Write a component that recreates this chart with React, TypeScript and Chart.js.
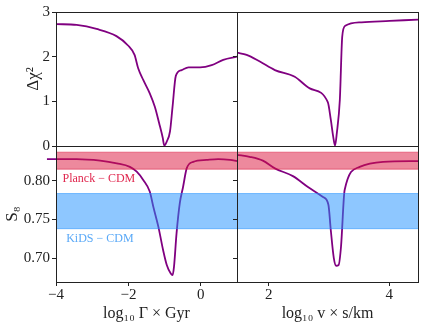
import React, { useEffect, useRef } from "react";
import { Chart, registerables } from "chart.js";
Chart.register(...registerables);

const W = 425;
const H = 327;

// ---- data ----
const gammaDchi2X = [-4, -3.43, -2.88, -2.33, -2.01, -1.83, -1.73, -1.59, -1.41, -1.27, -1.15, -1.05, -1.01, -0.94, -0.85, -0.78, -0.69, -0.53, -0.34, -0.02, 0.3, 0.62, 1.0];
const gammaDchi2Y = [2.73, 2.71, 2.62, 2.46, 2.25, 2.04, 1.74, 1.48, 1.18, 0.88, 0.51, 0.18, 0.01, 0.1, 0.33, 0.88, 1.57, 1.7, 1.76, 1.76, 1.81, 1.93, 2.0];

const velDchi2X = [1.47, 1.63, 1.85, 2.1, 2.43, 2.68, 2.98, 3.03, 3.07, 3.1, 3.13, 3.18, 3.22, 3.27, 3.54, 4.01, 4.48];
const velDchi2Y = [2.09, 2.04, 1.89, 1.7, 1.55, 1.29, 0.98, 0.59, 0.21, 0.01, 0.29, 1.03, 2.45, 2.69, 2.77, 2.8, 2.83];

const gammaS8X = [-4.25, -4, -3.43, -2.78, -2.32, -1.96, -1.77, -1.59, -1.41, -1.31, -1.17, -1.04, -0.94, -0.83, -0.78, -0.74, -0.67, -0.58, -0.49, -0.39, -0.21, 0.16, 0.48, 0.81, 1.0];
const gammaS8Y = [0.828, 0.828, 0.828, 0.826, 0.8225, 0.818, 0.8117, 0.801, 0.786, 0.766, 0.74, 0.71, 0.691, 0.68, 0.678, 0.689, 0.732, 0.771, 0.792, 0.816, 0.8245, 0.827, 0.828, 0.827, 0.8255];

const velS8X = [1.47, 1.68, 1.9, 2.1, 2.4, 2.65, 2.9, 2.99, 3.03, 3.08, 3.12, 3.16, 3.2, 3.26, 3.51, 3.9, 4.48];
const velS8Y = [0.8336, 0.831, 0.826, 0.816, 0.806, 0.792, 0.779, 0.769, 0.736, 0.7, 0.69, 0.691, 0.715, 0.788, 0.818, 0.8245, 0.8255];

const planckBand = [0.815, 0.837];
const kidsBand = [0.738, 0.7835];
const planckLabel = "Planck − CDM";
const kidsLabel = "KiDS − CDM";
const planckLabelPos = [-3.82, 0.802];
const kidsLabelPos = [-3.72, 0.7245];

const gammaRange = [-4, 1];
const velRange = [1.47, 4.48];
const dchi2Range = [0, 3];
const s8Range = [0.669, 0.845];

const dchi2Ticks = [0, 1, 2, 3];
const s8Ticks = [0.7, 0.75, 0.8];
const gammaTicks = [-4, -2, 0];
const velTicks = [2, 4];

const dchi2Title = "Δχ²";
const s8Title = "S₈";
const gammaTitle = "log₁₀ Γ × Gyr";
const velTitle = "log₁₀ v × s/km";

// ---- styles ----
const FONT = "'Liberation Serif', 'DejaVu Serif', serif";
const TXT = "#222222";
const CURVE = "#800080";
const PLANCK = "rgba(220,20,60,0.5)";
const KIDS = "rgba(30,144,255,0.5)";

const fmtInt = (v: number) => (v < 0 ? "−" + Math.abs(v) : String(v));
const fmt2 = (v: number) => v.toFixed(2);

const framePlugin = {
  id: "frame",
  afterDatasetsDraw(chart: any) {
    const { ctx, chartArea: a } = chart;
    ctx.save();
    ctx.strokeStyle = TXT;
    ctx.lineWidth = 1;
    const l = Math.round(a.left) + 0.5;
    const t = Math.round(a.top) + 0.5;
    const r = Math.round(a.right) + 0.5;
    const b = Math.round(a.bottom) + 0.5;
    ctx.strokeRect(l, t, r - l, b - t);
    ctx.restore();
  },
};

const labelPlugin = {
  id: "bandLabels",
  afterDatasetsDraw(chart: any, _args: any, opts: any) {
    if (!opts || !opts.items) return;
    const { ctx, scales } = chart;
    ctx.save();
    ctx.font = `12px ${FONT}`;
    ctx.textBaseline = "middle";
    ctx.textAlign = "left";
    for (const it of opts.items) {
      ctx.fillStyle = it.color;
      ctx.fillText(it.text, scales.x.getPixelForValue(it.x), scales.y.getPixelForValue(it.y));
    }
    ctx.restore();
  },
};

function pts(xs: number[], ys: number[]) {
  return xs.map((x, i) => ({ x, y: ys[i] }));
}

function bandSets(range: number[], band: number[], color: string) {
  return [
    {
      data: [{ x: range[0], y: band[1] }, { x: range[1], y: band[1] }],
      borderColor: color, borderWidth: 1, pointRadius: 0, fill: false,
    },
    {
      data: [{ x: range[0], y: band[0] }, { x: range[1], y: band[0] }],
      borderColor: color, borderWidth: 1, pointRadius: 0, fill: "-1", backgroundColor: color,
    },
  ];
}

function curveSet(xs: number[], ys: number[], clip: boolean) {
  return {
    data: pts(xs, ys),
    borderColor: CURVE,
    borderWidth: 1.8,
    pointRadius: 0,
    fill: false,
    cubicInterpolationMode: "monotone",
    clip: clip ? undefined : false,
  };
}

function axisX(range: number[], ticks: number[] | null, title: string | null) {
  if (!ticks) return { type: "linear", min: range[0], max: range[1], display: false };
  return {
    type: "linear",
    min: range[0],
    max: range[1],
    afterBuildTicks: (s: any) => { s.ticks = ticks.map((v) => ({ value: v })); },
    afterFit: (s: any) => { s.height = 45; },
    grid: { display: true, drawOnChartArea: false, drawTicks: true, tickLength: 4, color: TXT, lineWidth: 1 },
    border: { display: false },
    ticks: { display: true, color: TXT, font: { family: FONT, size: 15 }, padding: 0, maxRotation: 0, callback: (v: number) => fmtInt(v) },
    title: title ? { display: true, text: title, color: TXT, font: { family: FONT, size: 16 }, padding: { top: 0, bottom: 4 } } : { display: false },
  };
}

function axisY(range: number[], ticks: number[], labels: boolean, fmt: (v: number) => string, title: string | null, width: number, titlePad: number) {
  return {
    type: "linear",
    min: range[0],
    max: range[1],
    afterBuildTicks: (s: any) => { s.ticks = ticks.map((v) => ({ value: v })); },
    afterFit: (s: any) => { s.width = width; },
    grid: { display: true, drawOnChartArea: false, drawTicks: true, tickLength: 4, color: TXT, lineWidth: 1 },
    border: { display: false },
    ticks: { display: labels, color: TXT, font: { family: FONT, size: 15 }, padding: 2, callback: (v: number) => fmt(v) },
    title: title ? { display: true, text: title, color: TXT, font: { family: FONT, size: 17 }, padding: { top: titlePad, bottom: 0 } } : { display: false },
  };
}

function buildConfigs() {
  const base = (datasets: any[], x: any, y: any, padding: any, items: any[] | null) => ({
    type: "line",
    data: { datasets },
    options: {
      responsive: false,
      animation: false,
      events: [],
      layout: { padding },
      plugins: { legend: { display: false }, tooltip: { enabled: false }, bandLabels: items ? { items } : {} },
      scales: { x, y },
    },
    plugins: [framePlugin, labelPlugin],
  });

  const tl = base(
    [curveSet(gammaDchi2X, gammaDchi2Y, true)],
    axisX(gammaRange, null, null),
    axisY(dchi2Range, dchi2Ticks, true, fmtInt, dchi2Title, 56, 23),
    { left: 0, top: 12, right: W - 237, bottom: H - 146 },
    null
  );
  const tr = base(
    [curveSet(velDchi2X, velDchi2Y, true)],
    axisX(velRange, null, null),
    axisY(dchi2Range, dchi2Ticks, false, fmtInt, null, 237, 0),
    { left: 0, top: 12, right: W - 418, bottom: H - 146 },
    null
  );
  const bl = base(
    [...bandSets(gammaRange, planckBand, PLANCK), ...bandSets(gammaRange, kidsBand, KIDS), curveSet(gammaS8X, gammaS8Y, false)],
    axisX(gammaRange, gammaTicks, gammaTitle),
    axisY(s8Range, s8Ticks, true, fmt2, s8Title, 56, 2),
    { left: 0, top: 146, right: W - 237, bottom: 0 },
    [
      { text: planckLabel, x: planckLabelPos[0], y: planckLabelPos[1], color: "#e0284f" },
      { text: kidsLabel, x: kidsLabelPos[0], y: kidsLabelPos[1], color: "#5aa9f7" },
    ]
  );
  const br = base(
    [...bandSets(velRange, planckBand, PLANCK), ...bandSets(velRange, kidsBand, KIDS), curveSet(velS8X, velS8Y, true)],
    axisX(velRange, velTicks, velTitle),
    axisY(s8Range, s8Ticks, false, fmt2, null, 237, 0),
    { left: 0, top: 146, right: W - 418, bottom: 0 },
    null
  );
  return [tl, tr, bl, br];
}

export default function App() {
  const refs = [useRef<HTMLCanvasElement>(null), useRef<HTMLCanvasElement>(null), useRef<HTMLCanvasElement>(null), useRef<HTMLCanvasElement>(null)];
  useEffect(() => {
    const cfgs = buildConfigs();
    const charts = cfgs.map((c, i) => new Chart(refs[i].current as HTMLCanvasElement, c as any));
    return () => charts.forEach((c) => c.destroy());
  }, []);
  return (
    <div style={{ position: "absolute", left: 0, top: 0, width: W, height: H, background: "#fff" }}>
      {refs.map((r, i) => (
        <canvas key={i} ref={r} width={W} height={H} style={{ position: "absolute", left: 0, top: 0, width: W, height: H }} />
      ))}
    </div>
  );
}
